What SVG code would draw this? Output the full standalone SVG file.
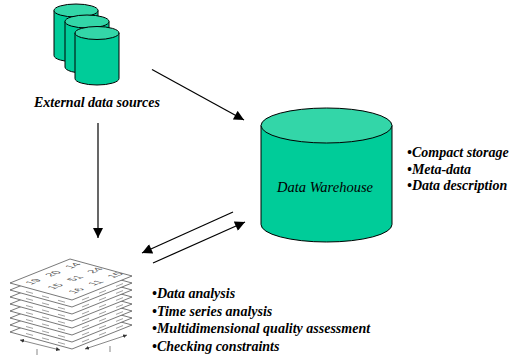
<svg xmlns="http://www.w3.org/2000/svg" width="514" height="363" viewBox="0 0 514 363">
  <style>
    .body { fill: #00CC99; stroke: #000; stroke-width: 1; }
    .lid { fill: #33D6A8; stroke: #000; stroke-width: 1; }
    .lbl { font-family: "Liberation Serif", "Times New Roman", serif; font-style: italic; font-weight: bold; font-size: 14px; fill: #000; }
    .dw { font-family: "Liberation Serif", "Times New Roman", serif; font-style: italic; font-size: 14.5px; fill: #000; }
    .conn { stroke: #000; stroke-width: 1.2; fill: none; }
    .sheet { fill: #fff; stroke: #555; stroke-width: 0.8; }
    .mark { stroke: #888; stroke-width: 0.8; }
    .num { font-family: "Liberation Sans", Arial, sans-serif; font-size: 10px; fill: #555; }
    .dim { stroke: #555; stroke-width: 0.7; fill: none; }
  </style>
  <defs>
    <marker id="head" viewBox="0 0 10 10" refX="10" refY="5" markerWidth="11" markerHeight="10" markerUnits="userSpaceOnUse" orient="auto">
      <path d="M0,0 L10,5 L0,10 Z" fill="#000"/>
    </marker>
    <marker id="tiny" viewBox="0 0 10 10" refX="10" refY="5" markerWidth="4" markerHeight="4" markerUnits="userSpaceOnUse" orient="auto-start-reverse">
      <path d="M0,0 L10,5 L0,10 Z" fill="#333"/>
    </marker>
    <!-- one sheet of the data cube -->
    <polygon id="sheet" class="sheet" points="10,283 70,259 132,276 72,300"/>
    <!-- glimpses of values on a lower sheet, along its front edges -->
    <g id="marks" class="mark">
      <line x1="26" y1="284.5" x2="33" y2="286.4"/>
      <line x1="42" y1="288.9" x2="49" y2="290.8"/>
      <line x1="58" y1="293.3" x2="65" y2="295.2"/>
      <line x1="82" y1="293" x2="89" y2="290.2"/>
      <line x1="99" y1="286.2" x2="106" y2="283.4"/>
      <line x1="116" y1="279.4" x2="123" y2="276.6"/>
    </g>
  </defs>

  <!-- connectors -->
  <g id="connectors">
    <line class="conn" x1="152" y1="69.5" x2="244" y2="120" marker-end="url(#head)"/>
    <line class="conn" x1="98" y1="123" x2="98" y2="238" marker-end="url(#head)"/>
    <line class="conn" x1="233" y1="212" x2="142" y2="253" marker-end="url(#head)"/>
    <line class="conn" x1="153" y1="263" x2="245" y2="222" marker-end="url(#head)"/>
  </g>

  <!-- external data sources: three stacked cylinders -->
  <g id="external-sources">
    <path class="body" d="M54,10.5 V55.5 A22,6.5 0 0 0 98,55.5 V10.5 Z"/>
    <ellipse class="lid" cx="76" cy="10.5" rx="22" ry="6.5"/>
    <path class="body" d="M65,21.5 V67 A22,6.5 0 0 0 109,67 V21.5 Z"/>
    <ellipse class="lid" cx="87" cy="21.5" rx="22" ry="6.5"/>
    <path class="body" d="M75,33 V78.5 A22,6.5 0 0 0 119,78.5 V33 Z"/>
    <ellipse class="lid" cx="97" cy="33" rx="22" ry="6.5"/>
    <text class="lbl" x="97" y="107" text-anchor="middle">External data sources</text>
  </g>

  <!-- data warehouse cylinder -->
  <g id="data-warehouse">
    <path class="body" d="M261,125.5 V224.5 A65.5,17.5 0 0 0 392,224.5 V125.5 Z"/>
    <ellipse class="lid" cx="326.5" cy="125.5" rx="65.5" ry="17.5"/>
    <text class="dw" x="325" y="192" text-anchor="middle">Data Warehouse</text>
    <text class="lbl" x="407" y="157">•Compact storage</text>
    <text class="lbl" x="407" y="173.5">•Meta-data</text>
    <text class="lbl" x="407" y="190">•Data description</text>
  </g>

  <!-- multidimensional data cube: stacked sheets -->
  <g id="data-cube">
    <use href="#sheet" transform="translate(0,49)"/>
    <use href="#marks" transform="translate(0,49)"/>
    <use href="#sheet" transform="translate(0,42)"/>
    <use href="#marks" transform="translate(0,42)"/>
    <use href="#sheet" transform="translate(0,35)"/>
    <use href="#marks" transform="translate(0,35)"/>
    <use href="#sheet" transform="translate(0,28)"/>
    <use href="#marks" transform="translate(0,28)"/>
    <use href="#sheet" transform="translate(0,21)"/>
    <use href="#marks" transform="translate(0,21)"/>
    <use href="#sheet" transform="translate(0,14)"/>
    <use href="#marks" transform="translate(0,14)"/>
    <use href="#sheet" transform="translate(0,7)"/>
    <use href="#marks" transform="translate(0,7)"/>
    <use href="#sheet"/>
    <!-- values printed on the top sheet, in the sheet's plane -->
    <g transform="matrix(1,-0.4,1,0.274,10,283)">
      <text class="num" x="6" y="15" word-spacing="6">19 20 14</text>
      <text class="num" x="8" y="35" word-spacing="6">15 51 24</text>
      <text class="num" x="10" y="54" word-spacing="6">16 11 15</text>
    </g>
    <!-- axis extents -->
    <line class="dim" x1="20" y1="340" x2="60" y2="350" marker-start="url(#tiny)" marker-end="url(#tiny)"/>
    <line class="dim" x1="85" y1="349" x2="127" y2="335" marker-start="url(#tiny)" marker-end="url(#tiny)"/>
    <line class="dim" x1="37" y1="349" x2="37" y2="355"/>
    <line class="dim" x1="110" y1="346" x2="110" y2="352"/>
    <text class="lbl" x="152" y="298">•Data analysis</text>
    <text class="lbl" x="152" y="315.5">•Time series analysis</text>
    <text class="lbl" x="152" y="333">•Multidimensional quality assessment</text>
    <text class="lbl" x="152" y="350.5">•Checking constraints</text>
  </g>
</svg>
